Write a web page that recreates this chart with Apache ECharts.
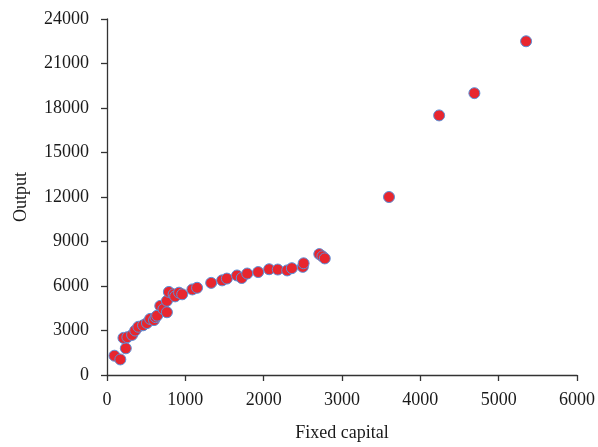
<!DOCTYPE html>
<html>
<head>
<meta charset="utf-8">
<script src="https://cdn.jsdelivr.net/npm/echarts@6/dist/echarts.min.js"></script>
<style>
	html, body { margin: 0; padding: 0; background: #fff; }
	#scatter { width: 598px; height: 447px; }
</style>
</head>
<body>
<div id="scatter"></div>
<script>
	// fixed capital (x) and output (y)
	var capital = [95, 170, 240, 210, 260, 320, 360, 400, 460, 510,
		550, 600, 620, 640, 680, 720, 765, 765, 790, 850,
		870, 920, 960, 1090, 1150, 1330, 1470, 1530, 1660, 1720,
		1790, 1930, 2070, 2180, 2300, 2360, 2500, 2510, 2710, 2750,
		2780, 3600, 4240, 4690, 5350];
	var output = [1300, 1050, 1800, 2500, 2550, 2700, 3000, 3250, 3350, 3500,
		3780, 3700, 3900, 4000, 4660, 4440, 4230, 5000, 5600, 5440,
		5300, 5550, 5440, 5770, 5880, 6210, 6380, 6500, 6710, 6540,
		6840, 6940, 7130, 7110, 7050, 7200, 7290, 7530, 8150, 8000,
		7860, 12000, 17500, 19000, 22500];
	var xTicks = [0, 1000, 2000, 3000, 4000, 5000, 6000];
	var yTicks = [0, 3000, 6000, 9000, 12000, 15000, 18000, 21000, 24000];

	var points = [];
	capital.forEach(function (c, i) {
		points.push([c, output[i]]);
	});

	var chart = echarts.init(document.getElementById('scatter'));
	var font = '"Liberation Serif", "DejaVu Serif", serif';

	var axisCommon = {
		axisLine: { show: true, lineStyle: { color: '#333', width: 1.3 } },
		axisTick: { show: true, inside: false, length: 6, lineStyle: { color: '#333', width: 1.3 } },
		splitLine: { show: false },
		axisLabel: {
			color: '#1a1a1a',
			fontFamily: font,
			fontSize: 18,
			margin: 16,
			formatter: function (v) { return String(v); }   // no thousands separator
		},
		nameTextStyle: { color: '#1a1a1a', fontFamily: font, fontSize: 18 },
		nameLocation: 'middle'
	};

	var option = {
		backgroundColor: '#fff',
		animation: false,
		grid: {
			left: 107,
			right: 21,
			top: 19,
			bottom: 65,
			containLabel: false
		},
		xAxis: Object.assign({}, axisCommon, {
			type: 'value',
			name: 'Fixed capital',
			nameGap: 49,
			min: xTicks[0],
			max: xTicks[xTicks.length - 1],
			interval: 1000
		}),
		yAxis: Object.assign({}, axisCommon, {
			type: 'value',
			name: 'Output',
			nameGap: 77,
			min: yTicks[0],
			max: yTicks[yTicks.length - 1],
			interval: 3000,
			axisLabel: Object.assign({}, axisCommon.axisLabel, { margin: 18 })
		}),
		series: [{
			type: 'scatter',
			symbolSize: 11,
			itemStyle: {
				color: '#e8262e',
				borderColor: '#5b8fd8',
				borderWidth: 1,
				opacity: 1
			},
			data: points
		}]
	};

	chart.setOption(option);
</script>
</body>
</html>
